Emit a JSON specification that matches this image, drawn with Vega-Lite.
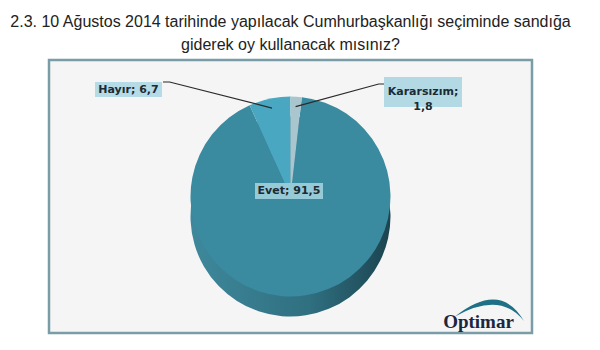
{
  "$schema": "https://vega.github.io/schema/vega-lite/v6.json",
  "width": 483,
  "height": 273,
  "autosize": {"type": "none"},
  "padding": {"left": 49, "top": 60, "right": 68, "bottom": 17},
  "background": "#ffffff",
  "title": {
    "text": ["2.3. 10 Ağustos 2014 tarihinde yapılacak Cumhurbaşkanlığı seçiminde sandığa", "giderek oy kullanacak mısınız?"],
    "font": "Liberation Sans",
    "fontSize": 16,
    "fontWeight": "normal",
    "color": "#222222",
    "anchor": "middle",
    "frame": "group",
    "baseline": "bottom",
    "offset": 8,
    "dy": 17,
    "lineHeight": 23
  },
  "view": {"fill": "#f5f5f5", "stroke": "#7a9ca7", "strokeWidth": 2.5},
  "data": {
    "values": [
      {"cat": "Evet", "value": 91.5, "label": "Evet; 91,5"},
      {"cat": "Hayır", "value": 6.7, "label": "Hayır; 6,7"},
      {"cat": "Kararsızım", "value": 1.8, "label": "Kararsızım;\n1,8"}
    ]
  },
  "layer": [
    {
      "mark": {
        "type": "arc",
        "radius": 100,
        "yOffset": 20,
        "fill": {
          "gradient": "linear", "x1": 0, "x2": 1, "y1": 0, "y2": 0,
          "stops": [{"offset": 0, "color": "#3f889c"}, {"offset": 0.6, "color": "#2f6f80"}, {"offset": 1, "color": "#1c4450"}]
        }
      },
      "encoding": {
        "theta": {"field": "value", "type": "quantitative", "stack": true, "scale": {"range": [0.1134, 6.3966]}},
        "detail": {"field": "cat"}
      }
    },
    {
      "mark": {"type": "arc", "radius": 100},
      "encoding": {
        "theta": {"field": "value", "type": "quantitative", "stack": true},
        "color": {
          "field": "cat", "type": "nominal",
          "scale": {"domain": ["Evet", "Hayır", "Kararsızım"], "range": ["#3a8aa0", "#4aa7c1", "#a9c6cf"]},
          "legend": null
        }
      }
    },
    {
      "transform": [{"filter": "datum.cat == 'Hayır'"}],
      "mark": {"type": "point", "shape": "M0,0L0.06,0L1,0.239", "size": 47524, "filled": false, "stroke": "#2a2a2a", "strokeWidth": 1.2, "opacity": 1, "xOffset": -127.5, "yOffset": -114.5},
      "encoding": {}
    },
    {
      "transform": [{"filter": "datum.cat == 'Kararsızım'"}],
      "mark": {"type": "point", "shape": "M0,0L-0.06,0L-1,0.256", "size": 31258, "filled": false, "stroke": "#2a2a2a", "strokeWidth": 1.2, "opacity": 1, "xOffset": 93.5, "yOffset": -112.5},
      "encoding": {}
    },
    {
      "transform": [{"filter": "datum.cat == 'Hayır'"}],
      "mark": {"type": "point", "shape": "M-1,-0.224H1V0.224H-1Z", "size": 4489, "filled": true, "fill": "#b5dbe6", "stroke": null, "opacity": 1, "xOffset": -162, "yOffset": -107},
      "encoding": {}
    },
    {
      "transform": [{"filter": "datum.cat == 'Kararsızım'"}],
      "mark": {"type": "point", "shape": "M-1,-0.385H1V0.385H-1Z", "size": 6084, "filled": true, "fill": "#b3dae4", "stroke": null, "opacity": 1, "xOffset": 132.5, "yOffset": -104.5},
      "encoding": {}
    },
    {
      "transform": [{"filter": "datum.cat == 'Evet'"}],
      "mark": {"type": "point", "shape": "M-1,-0.235H1V0.235H-1Z", "size": 4624, "filled": true, "fill": "#96cad7", "stroke": null, "opacity": 1, "xOffset": -1.5, "yOffset": -5.5},
      "encoding": {}
    },
    {
      "transform": [{"filter": "datum.cat == 'Hayır'"}],
      "mark": {"type": "text", "font": "DejaVu Sans", "fontWeight": "bold", "fontSize": 11, "color": "#1b2a33", "align": "center", "baseline": "middle", "dx": -162, "dy": -107},
      "encoding": {"text": {"field": "label"}}
    },
    {
      "transform": [{"filter": "datum.cat == 'Kararsızım'"}],
      "mark": {"type": "text", "font": "DejaVu Sans", "fontWeight": "bold", "fontSize": 11, "color": "#1b2a33", "align": "center", "baseline": "middle", "lineBreak": "\n", "lineHeight": 15, "dx": 132.5, "dy": -104.5},
      "encoding": {"text": {"field": "label"}}
    },
    {
      "transform": [{"filter": "datum.cat == 'Evet'"}],
      "mark": {"type": "text", "font": "DejaVu Sans", "fontWeight": "bold", "fontSize": 11, "color": "#1b2a33", "align": "center", "baseline": "middle", "dx": -1.5, "dy": -5.5},
      "encoding": {"text": {"field": "label"}}
    },
    {
      "data": {"values": [{"logo": "Optimar"}]},
      "mark": {"type": "point", "shape": "M-1,0.23Q0.3,-0.8,0.97,0.36Q0.3,-0.5,-1,0.23Z", "size": 4900, "filled": true, "fill": "#1f6f86", "stroke": null, "opacity": 1, "xOffset": 199.5, "yOffset": 112},
      "encoding": {}
    },
    {
      "data": {"values": [{"logo": "Optimar"}]},
      "mark": {"type": "text", "font": "Liberation Serif", "fontWeight": "bold", "fontSize": 19, "color": "#1b2740", "align": "center", "baseline": "alphabetic", "dx": 188, "dy": 131.5},
      "encoding": {"text": {"field": "logo"}}
    }
  ]
}
